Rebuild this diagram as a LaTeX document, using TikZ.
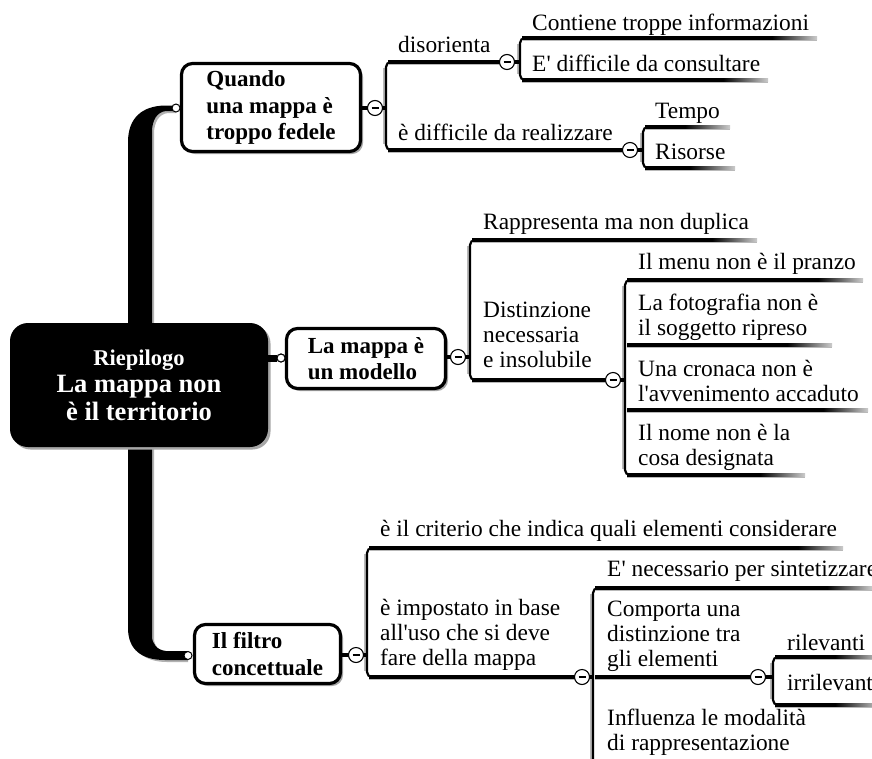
\documentclass[tikz,border=0pt]{standalone}
\usepackage{fontspec}
\setmainfont{Liberation Serif}
\usetikzlibrary{shadows,calc}
\newcommand\myUL[3]{%
  \fill[gray!55] (#1,#3+0.5) rectangle (#2,#3+3.4);
  \fill[black] (#1,#3-1.7) rectangle ({#2-45},#3+1.7);
  \shade[left color=black,right color=gray!40] ({#2-45},#3-1.7) rectangle (#2,#3+1.7);
}
\newcommand\mySL[3]{%
  \fill[gray!55] (#1,#3+0.5) rectangle (#2,#3+3.4);
  \fill[black] (#1,#3-1.7) rectangle (#2,#3+1.7);
}
\newcommand\myBR[3]{%
  \draw[gray!55,line width=1.5pt] (#1-2,#2+6) -- (#1-2,#3-6);
  \draw[brk] (#1+12,#2) -- (#1,#2) -- (#1,#3) -- (#1+12,#3);
}
\begin{document}
\begin{tikzpicture}[x=1pt,y=-1pt,
  txt/.style={anchor=base west, inner sep=0pt, font=\fontsize{23.4}{25}\selectfont, align=left},
  topicbox/.style={draw=black, line width=3.2pt, rounded corners=11pt, fill=white, align=left, inner sep=0pt,
    font=\bfseries\fontsize{23}{26.5}\selectfont,
    drop shadow={shadow xshift=2.5pt, shadow yshift=-2.5pt, fill=gray!70, opacity=1}},
  rootbox/.style={fill=black, rounded corners=18pt, text=white, align=center, inner sep=0pt,
    font=\bfseries\fontsize{26.5}{27.5}\selectfont,
    drop shadow={shadow xshift=2.5pt, shadow yshift=-2.5pt, fill=gray!70, opacity=1}},
  minus/.style={circle, draw=black, line width=1.1pt, fill=white, minimum size=15pt, inner sep=0pt},
  dot/.style={circle, draw=black, line width=1pt, fill=white, minimum size=8pt, inner sep=0pt},
  conn/.style={line width=4.5pt, black},
  brk/.style={line width=2.2pt, rounded corners=5pt, black},
]
\clip (0,0) rectangle (872,758);
\fill[white] (0,0) rectangle (872,758);

% trunk
\fill[gray!60] (130,330) -- (130,142) .. controls (130,118) and (144,107) .. (167,107) -- (176,107) -- (176,113) -- (168,113) .. controls (159,114) and (154,122) .. (154,134) -- (154,330) -- cycle;
\fill[black] (128,330) -- (128,142) .. controls (128,118) and (142,106) .. (165,105.5) -- (176,105.5) -- (176,111) -- (166,111) .. controls (157,112) and (152,120) .. (152,132) -- (152,330) -- cycle;
\fill[gray!60] (130,440) -- (130,628) .. controls (130,650) and (144,662) .. (167,662) -- (188,662) -- (188,653) -- (168,653) .. controls (159,652) and (154,646) .. (154,638) -- (154,440) -- cycle;
\fill[black] (128,440) -- (128,628) .. controls (128,650) and (142,660) .. (165,660) -- (188,660) -- (188,651) -- (166,651) .. controls (157,650) and (152,644) .. (152,636) -- (152,440) -- cycle;

% root
\node[rootbox, minimum width=258pt, minimum height=124pt] (root) at (139,385)
  {{\fontsize{22.5}{27.5}\selectfont Riepilogo}\\La mappa non\\è il territorio};

% topic boxes
\node[topicbox, minimum width=179pt, minimum height=88pt] (quando) at (271,107.5)
  {Quando\\una mappa è\\troppo fedele};
\node[topicbox, minimum width=159pt, minimum height=60pt] (modello) at (366,358.5)
  {La mappa è\\un modello};
\node[topicbox, minimum width=146pt, minimum height=59pt] (filtro) at (267.5,654)
  {Il filtro\\concettuale};

% connector root -> modello
\node[dot] (dM) at (281,358) {};
\draw[line width=7pt] (root.east |- dM) -- (dM.west);

% brackets
\myBR{386}{62}{150}
\myBR{520}{38}{80}
\myBR{643}{127}{168}
\myBR{470}{240}{380}
\myBR{625}{280}{475}
\myBR{367}{548}{677}
\myBR{593}{588}{790}
\myBR{773}{657}{705}

% underlines
\myUL{522}{817}{38}
\myUL{522}{768}{80}
\mySL{388}{500}{62}
\mySL{388}{623}{150}
\myUL{645}{730}{127}
\myUL{645}{735}{168}
\myUL{472}{757}{240}
\mySL{472}{606}{380}
\myUL{627}{863}{280}
\myUL{627}{832}{345}
\myUL{627}{868}{410}
\myUL{627}{805}{475}
\myUL{369}{843}{548}
\mySL{369}{575}{677}
\myUL{595}{872}{588}
\mySL{595}{751}{677}
\myUL{775}{880}{657}
\myUL{775}{880}{705}

% collapse circles and connectors
\coordinate (bQ) at (386,108);
\coordinate (bD) at (520,62);
\coordinate (bR) at (643,150);
\coordinate (bM) at (470,357);
\coordinate (bDi) at (625,380);
\coordinate (bF) at (367,655);
\coordinate (bI) at (593,677);
\coordinate (bC) at (773,677);
\coordinate (cQ) at (375,108);
\coordinate (cD) at (507,62);
\coordinate (cR) at (630,150);
\coordinate (cM) at (458,357);
\coordinate (cDi) at (613,380);
\coordinate (cF) at (356,655);
\coordinate (cI) at (582,677);
\coordinate (cC) at (758,677);
\draw[conn] (quando.east |- cQ) -- (cQ) -- (bQ);
\draw[conn] (cD) -- (bD);
\draw[conn] (cR) -- (bR);
\draw[conn] (modello.east |- cM) -- (cM) -- (bM);
\draw[conn] (cDi) -- (bDi);
\draw[conn] (filtro.east |- cF) -- (cF) -- (bF);
\draw[conn] (cI) -- (bI);
\draw[conn] (cC) -- (bC);
\node[minus] (mQ) at (cQ) {\rule{7pt}{1.3pt}};
\node[minus] (mD) at (cD) {\rule{7pt}{1.3pt}};
\node[minus] (mR) at (cR) {\rule{7pt}{1.3pt}};
\node[minus] (mM) at (cM) {\rule{7pt}{1.3pt}};
\node[minus] (mDi) at (cDi) {\rule{7pt}{1.3pt}};
\node[minus] (mF) at (cF) {\rule{7pt}{1.3pt}};
\node[minus] (mI) at (cI) {\rule{7pt}{1.3pt}};
\node[minus] (mC) at (cC) {\rule{7pt}{1.3pt}};

% small dots
\node[dot] (dQ) at (176,108) {};
\node[dot] (dF) at (188,655.5) {};
\node[dot] at (dM) {};

% texts
\node[txt] (t1) at (398,52) {disorienta};
\node[txt] (t11) at (532,30) {Contiene troppe informazioni};
\node[txt] (t12) at (532,71) {E\textquotesingle{} difficile da consultare};
\node[txt] (t2) at (398,140) {è difficile da realizzare};
\node[txt] (t21) at (655,118) {Tempo};
\node[txt] (t22) at (655,159) {Risorse};
\node[txt] (t3) at (483,229) {Rappresenta ma non duplica};
\node[txt] (t4) at (483,367) {Distinzione\\necessaria\\e insolubile};
\node[txt] (t41) at (638,269) {Il menu non è il pranzo};
\node[txt] (t42) at (638,335) {La fotografia non è\\il soggetto ripreso};
\node[txt] (t43) at (638,401) {Una cronaca non è\\l\textquotesingle avvenimento accaduto};
\node[txt] (t44) at (638,465) {Il nome non è la\\cosa designata};
\node[txt] (t5) at (380,536) {è il criterio che indica quali elementi considerare};
\node[txt] (t6) at (380,665) {è impostato in base\\all\textquotesingle uso che si deve\\fare della mappa};
\node[txt] (t61) at (607,576) {E\textquotesingle{} necessario per sintetizzare};
\node[txt] (t62) at (607,666) {Comporta una\\distinzione tra\\gli elementi};
\node[txt] (t63) at (607,750) {Influenza le modalità\\di rappresentazione};
\node[txt] (t621) at (787,650) {rilevanti};
\node[txt] (t622) at (787,690) {irrilevanti};
\end{tikzpicture}
\end{document}
